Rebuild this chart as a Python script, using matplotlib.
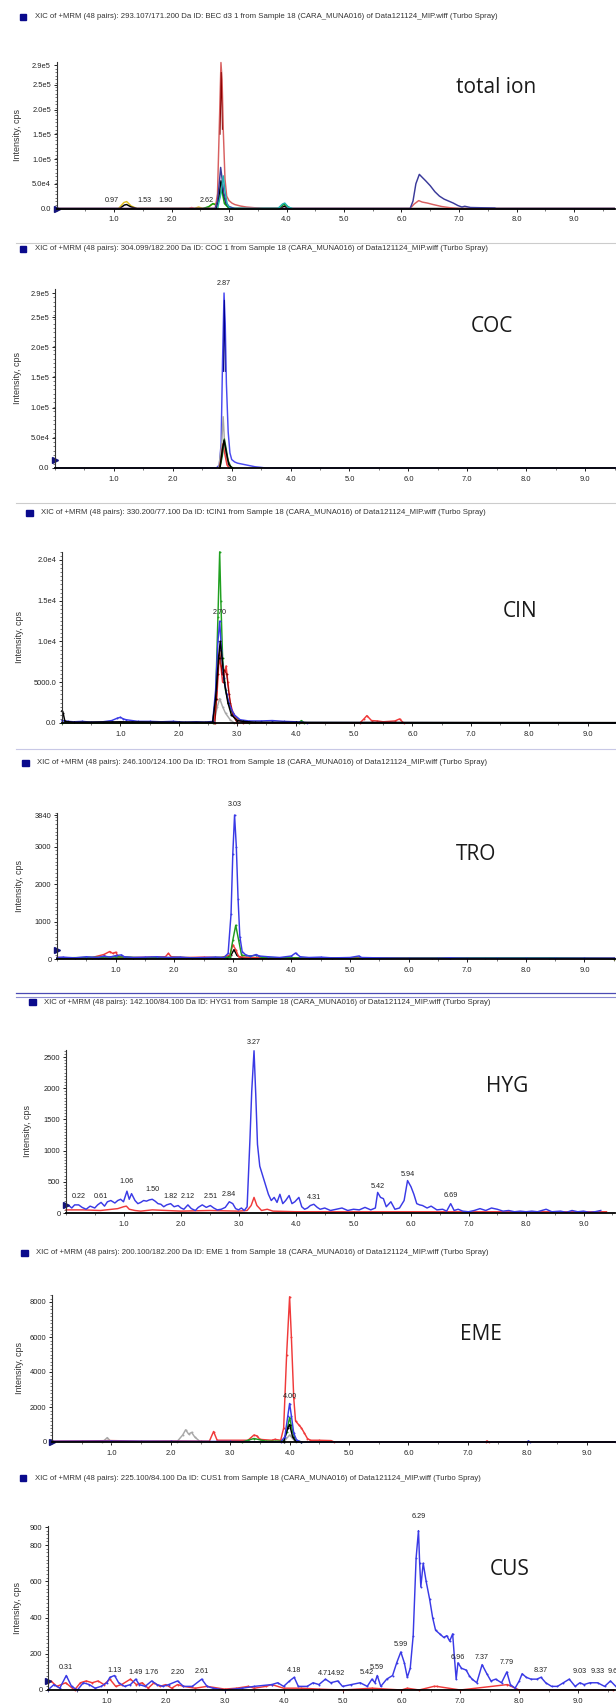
import matplotlib
matplotlib.use('Agg')
import matplotlib.pyplot as plt
from matplotlib.patches import Rectangle
from matplotlib.lines import Line2D
from matplotlib.ticker import MultipleLocator

# --- DATA ---
HEADERS = [
    "XIC of +MRM (48 pairs): 293.107/171.200 Da ID: BEC d3 1 from Sample 18 (CARA_MUNA016) of Data121124_MIP.wiff (Turbo Spray)",
    "XIC of +MRM (48 pairs): 304.099/182.200 Da ID: COC 1 from Sample 18 (CARA_MUNA016) of Data121124_MIP.wiff (Turbo Spray)",
    "XIC of +MRM (48 pairs): 330.200/77.100 Da ID: tCIN1 from Sample 18 (CARA_MUNA016) of Data121124_MIP.wiff (Turbo Spray)",
    "XIC of +MRM (48 pairs): 246.100/124.100 Da ID: TRO1 from Sample 18 (CARA_MUNA016) of Data121124_MIP.wiff (Turbo Spray)",
    "XIC of +MRM (48 pairs): 142.100/84.100 Da ID: HYG1 from Sample 18 (CARA_MUNA016) of Data121124_MIP.wiff (Turbo Spray)",
    "XIC of +MRM (48 pairs): 200.100/182.200 Da ID: EME 1 from Sample 18 (CARA_MUNA016) of Data121124_MIP.wiff (Turbo Spray)",
    "XIC of +MRM (48 pairs): 225.100/84.100 Da ID: CUS1 from Sample 18 (CARA_MUNA016) of Data121124_MIP.wiff (Turbo Spray)",
]
NAMES = ["total ion", "COC", "CIN", "TRO", "HYG", "EME", "CUS"]
XTICKS = [1, 2, 3, 4, 5, 6, 7, 8, 9]

# total ion
TIC_YT = [0, 5e4, 1e5, 1.5e5, 2e5, 2.5e5, 2.9e5]
TIC_YL = ["0.0", "5.0e4", "1.0e5", "1.5e5", "2.0e5", "2.5e5", "2.9e5"]
TIC_RED = ([0, 2.30, 2.35, 2.40, 2.76, 2.80, 2.83, 2.86, 2.88, 2.90, 2.93, 2.96, 3.00, 3.05, 3.10, 3.20, 3.30, 3.45, 3.60,
            6.15, 6.22, 6.30, 6.36, 6.45, 6.55, 6.70, 6.85, 7.00, 9.70],
           [0, 0, 2e3, 0, 0, 3e4, 1.6e5, 2.95e5, 2.6e5, 1.6e5, 6e4, 2.5e4, 1.6e4, 1.1e4, 8e3, 5e3, 3e3, 1.5e3, 0,
            0, 9e3, 1.6e4, 1.3e4, 1.1e4, 8e3, 4e3, 1.5e3, 0, 0])
TIC_DRED = ([2.845, 2.865, 2.885], [1.5e5, 2.75e5, 1.6e5])
TIC_BLUE = ([0, 2.76, 2.80, 2.83, 2.855, 2.88, 2.91, 2.95, 3.00, 3.10, 6.15, 6.20, 6.25, 6.31, 6.36, 6.42, 6.50, 6.58,
             6.66, 6.74, 6.82, 6.90, 6.98, 7.05, 7.10, 7.20, 7.40, 7.62, 7.65, 9.7],
            [0, 0, 1.5e4, 5e4, 8.3e4, 6e4, 3e4, 1.2e4, 4e3, 0, 0, 1.5e4, 5e4, 6.9e4, 6.3e4, 5.6e4, 4.6e4, 3.4e4,
             2.5e4, 1.9e4, 1.5e4, 1.1e4, 6e3, 3e3, 4.5e3, 2e3, 1.5e3, 1e3, 0, 0])
TIC_CYAN = ([2.80, 2.86, 2.90, 2.93, 2.97, 3.02, 3.85, 3.93, 3.97, 4.03, 4.10],
            [0, 3e4, 6.6e4, 3.5e4, 8e3, 0, 0, 9e3, 1.1e4, 3e3, 0])
TIC_BLACK = ([0, 1.10, 1.18, 1.22, 1.30, 1.40, 2.78, 2.83, 2.86, 2.90, 2.95, 3.02, 3.90, 3.96, 4.02, 9.7],
             [0, 0, 7e3, 8e3, 3e3, 0, 0, 3e4, 5.6e4, 3.2e4, 1e4, 0, 0, 5e3, 0, 0])
TIC_GREEN = ([2.55, 2.65, 2.72, 2.77, 2.82, 2.87, 2.92, 3.0, 3.88, 3.95, 4.02, 4.08],
             [0, 4e3, 1e4, 7e3, 1.5e4, 4e4, 1e4, 0, 0, 9e3, 4e3, 0])
TIC_YELLOW = ([1.08, 1.17, 1.22, 1.30, 1.40, 2.40, 2.47, 2.55, 2.62, 2.70, 2.76, 2.82],
              [0, 1.2e4, 1.4e4, 5e3, 0, 0, 3e3, 0, 0, 8e3, 1e4, 0])
TIC_PEAKS = (["0.97", "1.53", "1.90", "2.62"], [0.97, 1.53, 1.90, 2.62], [1.6e4, 1.6e4, 1.6e4, 1.6e4])

# COC
COC_YT = TIC_YT
COC_YL = TIC_YL
COC_BLUE = ([0, 2.74, 2.79, 2.82, 2.845, 2.87, 2.89, 2.91, 2.94, 2.97, 3.00, 3.05, 3.10, 3.20, 3.30, 3.40, 3.50, 3.58, 9.6],
            [0, 0, 5e3, 4e4, 1.8e5, 2.9e5, 2.4e5, 1.4e5, 6e4, 2.5e4, 1.4e4, 1.0e4, 8e3, 6e3, 4e3, 2e3, 1e3, 0, 0])
COC_DBLUE = ([2.86, 2.875, 2.89], [1.6e5, 2.78e5, 1.6e5])
COC_GRAY = ([2.78, 2.83, 2.855, 2.88, 2.92, 2.96], [0, 4e4, 8.5e4, 4e4, 8e3, 0])
COC_GREEN = ([2.80, 2.84, 2.875, 2.90, 2.94, 2.98, 3.02], [0, 2e4, 4.8e4, 3.5e4, 1.2e4, 3e3, 0])
COC_RED = ([2.79, 2.82, 2.85, 2.88, 2.92, 2.96], [0, 1.5e4, 4e4, 2.5e4, 5e3, 0])
COC_BLACK = ([2.80, 2.84, 2.87, 2.91, 2.95, 3.0], [0, 3e4, 4.6e4, 2.5e4, 6e3, 0])
COC_PEAKS = (["2.87"], [2.87], [3.06e5])

# CIN
CIN_YT = [0, 5000, 1e4, 1.5e4, 2e4]
CIN_YL = ["0.0", "5000.0", "1.0e4", "1.5e4", "2.0e4"]
CIN_GREEN = ([0, 2.58, 2.63, 2.67, 2.70, 2.72, 2.75, 2.80, 2.85, 2.92, 3.00, 3.10, 3.2, 4.05, 4.1, 4.15, 9.5],
             [0, 0, 3e3, 1.3e4, 2.1e4, 1.5e4, 8e3, 4e3, 2.5e3, 1.2e3, 500, 200, 0, 0, 300, 0, 0])
CIN_BLUE = ([0, 0.1, 0.2, 0.35, 0.5, 0.7, 0.85, 0.95, 1.0, 1.05, 1.1, 1.2, 1.3, 1.5, 1.7, 1.9, 2.1, 2.3, 2.45, 2.58,
             2.63, 2.67, 2.70, 2.73, 2.77, 2.82, 2.88, 2.95, 3.05, 3.2, 3.4, 3.6, 3.8, 4.0, 4.2, 9.5],
            [300, 200, 150, 200, 100, 150, 300, 600, 700, 500, 400, 300, 200, 200, 150, 200, 100, 150, 100, 200,
             4e3, 1e4, 1.25e4, 9e3, 5.5e3, 3.5e3, 2e3, 1e3, 400, 250, 250, 300, 200, 150, 50, 20])
CIN_BLACK = ([0, 0.02, 0.05, 0.2, 1.0, 2.0, 2.58, 2.63, 2.68, 2.71, 2.74, 2.78, 2.84, 2.9, 3.0, 3.1, 3.3, 4.0, 9.5],
             [1500, 1200, 200, 100, 150, 100, 100, 3e3, 8e3, 1e4, 8e3, 5e3, 2.5e3, 1e3, 300, 200, 100, 80, 50])
CIN_RED = ([2.60, 2.65, 2.69, 2.72, 2.75, 2.78, 2.81, 2.84, 2.88, 2.93, 3.0, 3.1, 5.1, 5.17, 5.22, 5.3, 5.4, 5.5,
            5.7, 5.78, 5.85],
           [0, 3e3, 8e3, 7e3, 5e3, 6e3, 7e3, 5e3, 2.5e3, 1.2e3, 400, 0, 0, 500, 900, 300, 250, 150, 250, 500, 0])
CIN_DRED = ([2.62, 2.67, 2.70, 2.74, 2.78, 2.82, 2.86, 2.92, 3.0], [0, 6e3, 9e3, 6e3, 6.5e3, 6e3, 3.5e3, 1e3, 0])
CIN_GRAY = ([2.60, 2.66, 2.70, 2.75, 2.8, 2.88, 2.95], [0, 2e3, 3e3, 2e3, 1.2e3, 400, 0])
CIN_PEAKS = (["2.70"], [2.70], [1.35e4])

# TRO
TRO_YT = [0, 1000, 2000, 3000, 3840]
TRO_YL = ["0", "1000", "2000", "3000", "3840"]
TRO_BLUE = ([0, 0.1, 0.3, 0.5, 0.7, 0.8, 0.9, 1.0, 1.1, 1.15, 1.3, 1.5, 1.7, 1.9, 2.1, 2.3, 2.5, 2.7, 2.85, 2.92,
             2.97, 3.00, 3.03, 3.06, 3.09, 3.12, 3.16, 3.22, 3.3, 3.4, 3.45, 3.6, 3.8, 4.0, 4.07, 4.15, 4.3, 4.5,
             4.7, 5.0, 5.15, 5.2, 5.5, 6.0, 6.5, 6.7, 7.0, 7.5, 8.0, 8.5, 9.0, 9.5],
            [40, 50, 30, 60, 40, 80, 50, 90, 110, 60, 40, 50, 60, 40, 50, 30, 40, 50, 40, 150,
             1200, 2800, 3840, 3000, 1600, 600, 200, 110, 70, 120, 80, 60, 40, 80, 160, 60, 40, 50,
             30, 40, 80, 40, 30, 20, 20, 30, 20, 20, 20, 20, 20, 20])
TRO_RED = ([0, 0.3, 0.6, 0.8, 0.9, 0.95, 1.0, 1.05, 1.3, 1.6, 1.85, 1.9, 1.95, 2.2, 2.5, 2.8, 2.95, 3.0, 3.05,
            3.1, 3.3, 3.6, 4.0, 6.4, 7.0, 9.5],
           [40, 30, 40, 120, 200, 150, 180, 60, 40, 50, 60, 150, 60, 40, 50, 40, 100, 380, 250,
            60, 40, 30, 20, 30, 20, 10])
TRO_GREEN = ([0, 0.5, 1.0, 1.5, 2.0, 2.5, 2.95, 3.0, 3.05, 3.1, 3.15, 3.3, 3.4, 3.5, 4.0, 5.0, 7.3, 8.4, 9.5],
             [30, 40, 60, 30, 40, 30, 50, 500, 900, 500, 100, 80, 100, 40, 30, 20, 30, 30, 10])
TRO_BLACK = ([0, 0.5, 1.0, 1.5, 2.0, 2.5, 2.9, 2.97, 3.02, 3.07, 3.15, 3.5, 4.0, 5.0, 6.0, 7.0, 8.0, 9.0, 9.5],
             [20, 30, 20, 30, 30, 20, 30, 100, 250, 100, 30, 20, 20, 20, 20, 20, 20, 20, 20])
TRO_PEAKS = (["3.03"], [3.03], [4130])

# HYG
HYG_YT = [0, 500, 1000, 1500, 2000, 2500]
HYG_YL = ["0", "500", "1000", "1500", "2000", "2500"]
HYG_BLUE = ([0.0, 0.05, 0.1, 0.15, 0.22, 0.28, 0.35, 0.42, 0.5, 0.55, 0.61, 0.67, 0.72, 0.78, 0.85, 0.9, 0.95, 1.0,
             1.06, 1.1, 1.14, 1.2, 1.25, 1.3, 1.35, 1.4, 1.45, 1.5, 1.55, 1.6, 1.65, 1.7, 1.75, 1.82, 1.88, 1.95,
             2.0, 2.05, 2.12, 2.18, 2.25, 2.3, 2.37, 2.44, 2.51, 2.57, 2.63, 2.7, 2.77, 2.84, 2.9, 2.95, 3.0, 3.05,
             3.1, 3.15, 3.2, 3.23, 3.27, 3.3, 3.33, 3.37, 3.42, 3.47, 3.52, 3.57, 3.62, 3.67, 3.72, 3.77, 3.82,
             3.88, 3.93, 3.98, 4.05, 4.1, 4.15, 4.2, 4.25, 4.31, 4.37, 4.42, 4.5, 4.6, 4.7, 4.8, 4.9, 5.0, 5.1,
             5.2, 5.3, 5.38, 5.42, 5.47, 5.52, 5.57, 5.65, 5.72, 5.8, 5.88, 5.94, 6.0, 6.05, 6.1, 6.15, 6.2, 6.28,
             6.35, 6.45, 6.55, 6.62, 6.69, 6.75, 6.82, 6.9, 7.0, 7.1, 7.2, 7.3, 7.4, 7.5, 7.6, 7.7, 7.8, 7.9,
             8.0, 8.1, 8.2, 8.35, 8.45, 8.6, 8.7, 8.8, 8.9, 9.0, 9.1, 9.2, 9.3],
            [100, 120, 80, 130, 130, 90, 60, 110, 80, 130, 170, 110, 180, 200, 160, 200, 220, 180,
             350, 220, 310, 200, 150, 170, 200, 190, 210, 220, 190, 150, 140, 100, 130, 150, 100, 120,
             80, 60, 130, 70, 40, 90, 130, 90, 120, 80, 50, 60, 90, 180, 150, 70, 50, 80,
             40, 100, 1200, 1950, 2600, 1900, 1100, 750, 600, 450, 300, 200, 250, 170, 300, 150, 200,
             280, 150, 180, 250, 100, 60, 80, 120, 140, 90, 60, 80, 40, 60, 80, 40, 60, 50,
             90, 50, 80, 330, 250, 230, 100, 180, 60, 80, 200, 520, 420, 300, 150, 130, 120, 80,
             110, 50, 60, 30, 150, 40, 60, 30, 20, 40, 70, 40, 80, 60, 30, 40, 20, 30,
             20, 30, 20, 60, 20, 30, 10, 40, 20, 30, 10, 20, 40])
HYG_RED = ([0, 0.3, 0.6, 0.9, 1.0, 1.05, 1.1, 1.2, 1.3, 1.5, 2.0, 2.5, 3.0, 3.15, 3.22, 3.27, 3.32, 3.4, 3.5, 3.6,
            4.0, 5.0, 6.0, 7.0, 8.0, 9.4],
           [50, 50, 40, 70, 100, 110, 60, 40, 30, 50, 30, 40, 30, 40, 120, 250, 120, 40, 60, 30,
            20, 20, 20, 20, 20, 20])
HYG_PEAKS = (["0.22", "0.61", "1.06", "1.50", "1.82", "2.12", "2.51", "2.84", "3.27", "4.31", "5.42", "5.94", "6.69"],
             [0.22, 0.61, 1.06, 1.50, 1.82, 2.12, 2.51, 2.84, 3.27, 4.31, 5.42, 5.94, 6.69],
             [260, 270, 500, 370, 270, 270, 270, 290, 2740, 250, 420, 610, 280])

# EME
EME_YT = [0, 2000, 4000, 6000, 8000]
EME_YL = ["0", "2000", "4000", "6000", "8000"]
EME_RED = ([0, 0.5, 1.0, 1.5, 2.0, 2.5, 2.65, 2.72, 2.78, 3.3, 3.4, 3.45, 3.5, 3.7, 3.75, 3.85, 3.9, 3.95, 4.0,
            4.03, 4.07, 4.1, 4.15, 4.2, 4.25, 4.3, 4.35, 4.5, 4.7, 4.75, 7.3, 7.32, 7.35, 9.5],
           [50, 60, 80, 50, 60, 50, 50, 600, 100, 100, 400, 350, 150, 100, 150, 100, 800, 5000, 8300,
            6000, 2500, 1200, 1000, 800, 500, 200, 100, 100, 80, 0, 0, 60, 0, 0])
EME_BLUE = ([0, 1.0, 2.0, 3.0, 3.85, 3.92, 3.97, 4.0, 4.03, 4.07, 4.12, 4.2, 8.0, 8.02, 8.05, 9.5],
            [40, 50, 40, 30, 0, 300, 1500, 2200, 1500, 500, 100, 0, 0, 60, 0, 0])
EME_GREEN = ([3.2, 3.3, 3.4, 3.6, 3.9, 3.95, 4.0, 4.05, 4.1, 4.2], [0, 100, 200, 50, 50, 600, 1400, 600, 100, 0])
EME_BLACK = ([3.9, 3.97, 4.0, 4.05, 4.1, 4.2], [0, 800, 1000, 300, 50, 0])
EME_GRAY = ([0.85, 0.93, 1.0, 2.1, 2.2, 2.25, 2.3, 2.35, 2.4, 2.5, 3.9, 4.0, 4.1],
            [0, 250, 0, 0, 400, 700, 450, 550, 300, 0, 0, 400, 0])
EME_PEAKS = (["4.00"], [4.00], [2600])

# CUS
CUS_YT = [0, 200, 400, 600, 800, 900]
CUS_YL = ["0", "200", "400", "600", "800", "900"]
CUS_BLUE = ([0.0, 0.1, 0.2, 0.31, 0.4, 0.5, 0.6, 0.7, 0.8, 0.9, 1.0, 1.05, 1.13, 1.2, 1.3, 1.4, 1.49, 1.55, 1.65,
             1.76, 1.85, 1.95, 2.05, 2.2, 2.3, 2.45, 2.61, 2.7, 2.8, 3.0, 3.3, 3.5, 3.8, 3.9, 4.0, 4.1, 4.18,
             4.25, 4.4, 4.5, 4.6, 4.71, 4.8, 4.92, 5.0, 5.15, 5.3, 5.42, 5.5, 5.55, 5.59, 5.65, 5.75, 5.85,
             5.92, 5.99, 6.05, 6.1, 6.15, 6.2, 6.25, 6.29, 6.31, 6.33, 6.37, 6.42, 6.48, 6.53, 6.58, 6.65, 6.72,
             6.77, 6.82, 6.87, 6.9, 6.93, 6.96, 7.02, 7.1, 7.15, 7.2, 7.28, 7.37, 7.45, 7.52, 7.6, 7.7, 7.79,
             7.85, 7.93, 8.0, 8.05, 8.12, 8.2, 8.3, 8.37, 8.45, 8.55, 8.65, 8.75, 8.85, 8.95, 9.03, 9.1, 9.2,
             9.33, 9.45, 9.55, 9.64],
            [0, 30, 10, 80, 20, 0, 40, 30, 10, 20, 40, 70, 80, 40, 20, 30, 60, 30, 20,
             50, 30, 20, 30, 50, 20, 20, 60, 20, 10, 0, 10, 20, 30, 40, 20, 50, 70,
             20, 20, 40, 30, 60, 40, 50, 20, 30, 40, 20, 60, 40, 80, 20, 60, 80,
             150, 210, 150, 70, 120, 300, 730, 880, 700, 570, 700, 600, 500, 400, 330, 310, 290,
             300, 270, 310, 180, 60, 150, 120, 110, 80, 60, 40, 140, 90, 50, 60, 40, 100,
             30, 10, 50, 90, 70, 60, 60, 70, 40, 20, 20, 40, 60, 20, 40, 30, 40,
             40, 20, 50, 20])
CUS_RED = ([0, 0.05, 0.15, 0.3, 0.45, 0.55, 0.65, 0.75, 0.85, 0.95, 1.05, 1.15, 1.25, 1.4, 1.5, 1.6, 1.7, 1.8, 1.9,
            2.0, 2.1, 2.2, 2.3, 2.5, 2.7, 3.0, 3.2, 3.4, 3.5, 3.7, 3.8, 4.0, 4.3, 4.6, 5.0, 5.5, 6.0, 6.1, 6.3,
            6.55, 6.6, 7.0, 7.8, 8.0, 9.6],
           [40, 50, 20, 40, 0, 40, 50, 40, 50, 30, 60, 20, 30, 60, 30, 40, 10, 40, 20,
            30, 10, 30, 20, 10, 20, 5, 10, 20, 10, 20, 30, 10, 10, 5, 0, 10, 0, 10, 0,
            20, 20, 0, 30, 0, 0])
CUS_PEAKS = (["0.31", "1.13", "1.49", "1.76", "2.20", "2.61", "4.18", "4.71", "4.92", "5.42", "5.59", "5.99", "6.29",
              "6.96", "7.37", "7.79", "8.37", "9.03", "9.33", "9.62"],
             [0.31, 1.13, 1.49, 1.76, 2.20, 2.61, 4.18, 4.71, 4.92, 5.42, 5.59, 5.99, 6.29,
              6.96, 7.37, 7.79, 8.37, 9.03, 9.33, 9.62],
             [125, 110, 95, 95, 95, 100, 110, 90, 90, 95, 125, 250, 960,
              180, 180, 150, 110, 100, 100, 100])

# --- LAYOUT (pixels of the 616x1707 screenshot) ---
W, H = 616, 1707
plt.rcParams['font.family'] = ['Liberation Sans', 'DejaVu Sans']
fig = plt.figure(figsize=(W / 100, H / 100), dpi=100)

C_RED, C_BLUE, C_GREEN, C_GRAY = '#f03a3a', '#3a3ae6', '#1f9a1f', '#a8a8a8'

PANELS = [
    # x0, px/min, y of zero, y of ref tick, ref value, ylim top, header y, header x, name xy, ylabel x
    dict(x0=56.5, ppm=57.5, yz=208.5, yr=65, rv=2.9e5, top=2.97e5, hy=17, hx=20, nx=496, ny=93, lx=17,
         yt=TIC_YT, yl=TIC_YL, tri=0,
         traces=[(TIC_YELLOW, '#e0c020'), (TIC_GREEN, '#10a010'), (TIC_BLACK, 'black'), (TIC_RED, '#d86060'),
                 (TIC_DRED, '#8b0000'), (TIC_BLUE, '#3a3a9a'), (TIC_CYAN, '#20b0b0')],
         peaks=TIC_PEAKS, dots=False),
    dict(x0=55, ppm=58.9, yz=468, yr=293, rv=2.9e5, top=2.97e5, hy=249, hx=20, nx=492, ny=332, lx=17,
         yt=COC_YT, yl=COC_YL, tri=1.3e4,
         traces=[(COC_BLUE, '#4a4af0'), (COC_DBLUE, '#00008b'), (COC_GRAY, C_GRAY), (COC_RED, C_RED),
                 (COC_GREEN, '#1a6a1a'), (COC_BLACK, 'black')],
         peaks=COC_PEAKS, dots=False),
    dict(x0=62, ppm=58.4, yz=723, yr=560, rv=2e4, top=2.1e4, hy=513, hx=26, nx=520, ny=617, lx=19,
         yt=CIN_YT, yl=CIN_YL, tri=None,
         traces=[(CIN_GREEN, '#20a020'), (CIN_GRAY, C_GRAY), (CIN_RED, C_RED), (CIN_DRED, '#8b0000'),
                 (CIN_BLUE, C_BLUE), (CIN_BLACK, 'black')],
         peaks=CIN_PEAKS, dots=True),
    dict(x0=57, ppm=58.6, yz=959, yr=815, rv=3840, top=3900, hy=763, hx=22, nx=476, ny=860, lx=19,
         yt=TRO_YT, yl=TRO_YL, tri=240,
         traces=[(TRO_BLACK, 'black'), (TRO_RED, C_RED), (TRO_GREEN, C_GREEN), (TRO_BLUE, C_BLUE)],
         peaks=TRO_PEAKS, dots=True),
    dict(x0=66, ppm=57.5, yz=1213, yr=1057, rv=2500, top=2620, hy=1002, hx=29, nx=507, ny=1092, lx=27,
         yt=HYG_YT, yl=HYG_YL, tri=130,
         traces=[(HYG_RED, C_RED), (HYG_BLUE, C_BLUE)],
         peaks=HYG_PEAKS, dots=False),
    dict(x0=52, ppm=59.4, yz=1442, yr=1302, rv=8000, top=8400, hy=1253, hx=21, nx=481, ny=1340, lx=19,
         yt=EME_YT, yl=EME_YL, tri=0,
         traces=[(EME_GRAY, C_GRAY), (EME_RED, C_RED), (EME_GREEN, C_GREEN), (EME_BLACK, 'black'),
                 (EME_BLUE, C_BLUE)],
         peaks=EME_PEAKS, dots=True),
    dict(x0=48, ppm=58.9, yz=1690, yr=1527, rv=900, top=905, hy=1478, hx=20, nx=510, ny=1575, lx=17,
         yt=CUS_YT, yl=CUS_YL, tri=50,
         traces=[(CUS_RED, C_RED), (CUS_BLUE, C_BLUE)],
         peaks=CUS_PEAKS, dots=True),
]


def fx(px):
    return px / W


def fy(py):
    return 1 - py / H


for i, p in enumerate(PANELS):
    h_px = (p['yz'] - p['yr']) * p['top'] / p['rv']
    ax = fig.add_axes([fx(p['x0']), fy(p['yz']), (W - 1 - p['x0']) / W, h_px / H])
    ax.set_xlim(0, (W - 1 - p['x0']) / p['ppm'])
    ax.set_ylim(0, p['top'])
    ax.patch.set_alpha(0)
    for s in ['top', 'right']:
        ax.spines[s].set_visible(False)
    ax.spines['bottom'].set_linewidth(1.3)
    ax.spines['left'].set_linewidth(0.8)
    ax.spines['left'].set_color('#333333')

    ax.set_xticks(XTICKS)
    ax.set_xticklabels([f"{v:.1f}" for v in XTICKS])
    ax.xaxis.set_minor_locator(MultipleLocator(0.5))
    ax.set_yticks(p['yt'])
    ax.set_yticklabels(p['yl'])
    ax.yaxis.set_minor_locator(MultipleLocator(p['rv'] / 40 if p['rv'] > 1e4 else p['yt'][1] / 10))
    ax.tick_params(axis='both', which='major', labelsize=5.4, length=2.5, width=0.7,
                   colors='#222222', pad=1.5)
    ax.tick_params(axis='x', which='major', pad=3)
    ax.tick_params(axis='both', which='minor', length=1.3, width=0.5, color='#444444')

    for (t, v), c in p['traces']:
        lw = 0.7 if c in ('#8b0000', '#00008b') else 1.05
        if p['dots']:
            ax.plot(t, v, color=c, lw=lw, marker='o', ms=1.4, mew=0, clip_on=False)
        else:
            ax.plot(t, v, color=c, lw=lw, clip_on=False)

    labels, pt, py = p['peaks']
    for lab, t, y in zip(labels, pt, py):
        ax.text(t, y, lab, fontsize=5.2, ha='center', va='center', color='#222222', clip_on=False)

    if p['tri'] is not None:
        ax.plot([0], [p['tri']], marker='>', ms=4.5, color='#14147a', clip_on=False)

    # header: blue square + XIC description
    fig.add_artist(Rectangle((fx(p['hx']), fy(p['hy'] + 3)), 6.5 / W, 6 / H,
                             transform=fig.transFigure, color='#0a0a8c'))
    fig.text(fx(p['hx'] + 15), fy(p['hy']), HEADERS[i], fontsize=5.6, ha='left', va='center',
             color='#333333')

    # compound name
    fig.text(fx(p['nx']), fy(p['ny']), NAMES[i], fontsize=15, ha='center', va='baseline',
             family=['Open Sans', 'DejaVu Sans'], color='#1a1a1a')

    # y axis title
    fig.text(fx(p['lx']), fy((p['yz'] + p['yz'] - h_px) / 2), "Intensity, cps", fontsize=6.5,
             rotation=90, ha='center', va='center', color='#333333')

# separator lines between panels
for y, c, lw in [(243, '#cccccc', 0.8), (503, '#cccccc', 0.8), (749, '#c8c8e6', 0.8),
                 (993, '#4b4bb4', 0.9), (997, '#8c8cd2', 0.8)]:
    fig.add_artist(Line2D([fx(16), 1], [fy(y), fy(y)], transform=fig.transFigure, color=c, lw=lw))

fig.savefig('out.png', dpi=100)
